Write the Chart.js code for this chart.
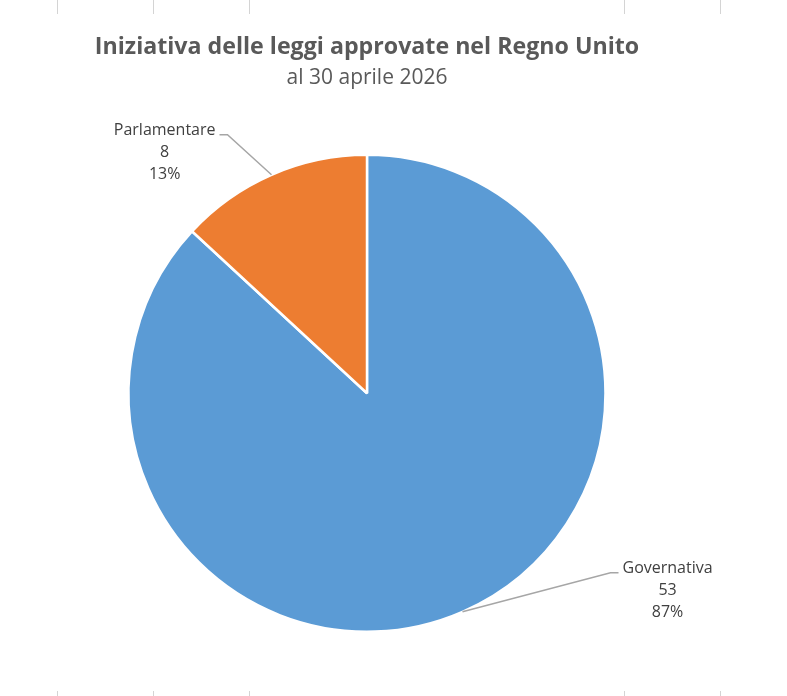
<!DOCTYPE html>
<html>
<head>
<meta charset="utf-8">
<script src="https://cdn.jsdelivr.net/npm/chart.js@4.4.1/dist/chart.umd.min.js"></script>
<style>
  html, body { margin: 0; padding: 0; background: #fff; }
  #wrap { position: relative; width: 787px; height: 696px; }
  .tick { position: absolute; width: 1px; background: #d4d4d4; }
</style>
</head>
<body>
<div id="wrap">
  <canvas id="pie" width="787" height="696"></canvas>
</div>
<script>
// data
const categories = ['Governativa', 'Parlamentare'];
const counts = [53, 8];
const sliceColors = ['#5B9BD5', '#ED7D31'];

const titleText = 'Iniziativa delle leggi approvate nel Regno Unito';
const subtitleText = 'al 30 aprile 2026';

// faint sheet gridlines peeking at top and bottom
const wrap = document.getElementById('wrap');
[57, 153, 249, 624, 720].forEach(x => {
    const top = document.createElement('div');
    top.className = 'tick';
    top.style.cssText = `left:${x}px;top:0;height:14px;`;
    wrap.appendChild(top);
    const bot = document.createElement('div');
    bot.className = 'tick';
    bot.style.cssText = `left:${x}px;top:691px;height:5px;`;
    wrap.appendChild(bot);
});

// outside labels with leader lines, like the spreadsheet "best fit" labels
const leaderLabels = {
    id: 'leaderLabels',
    afterDatasetsDraw(chart) {
        const ctx = chart.ctx;
        const meta = chart.getDatasetMeta(0);
        const total = counts.reduce((a, b) => a + b, 0);
        // elbow offsets from the arc edge, and which side the text sits on
        const layout = [
            { dx: 148, dy: -39, side: 1 },
            { dx: -44, dy: -40, side: -1 }
        ];
        ctx.save();
        meta.data.forEach((arc, i) => {
            const mid = (arc.startAngle + arc.endAngle) / 2;
            const px = arc.x + Math.cos(mid) * arc.outerRadius;
            const py = arc.y + Math.sin(mid) * arc.outerRadius;
            const l = layout[i];
            const ex = px + l.dx;
            const ey = py + l.dy;
            const hx = ex + l.side * 8;

            ctx.strokeStyle = '#a6a6a6';
            ctx.lineWidth = 1.5;
            ctx.beginPath();
            ctx.moveTo(px, py);
            ctx.lineTo(ex, ey);
            ctx.lineTo(hx, ey);
            ctx.stroke();

            const lines = [
                categories[i],
                String(counts[i]),
                Math.round(counts[i] / total * 100) + '%'
            ];
            ctx.font = '16px "Open Sans"';
            ctx.fillStyle = '#404040';
            ctx.textBaseline = 'middle';
            ctx.textAlign = 'center';
            const w = ctx.measureText(lines[0]).width;
            const cx = l.side > 0 ? hx + 4 + w / 2 : hx - 4 - w / 2;
            lines.forEach((t, k) => ctx.fillText(t, cx, ey - 4 + k * 22));
        });
        ctx.restore();
    }
};

new Chart(document.getElementById('pie'), {
    type: 'pie',
    data: {
        labels: categories,
        datasets: [{
            data: counts,
            backgroundColor: sliceColors,
            borderColor: '#ffffff',
            borderWidth: 2.5
        }]
    },
    options: {
        responsive: false,
        animation: false,
        layout: { padding: { top: 33, left: 80, right: 133, bottom: 63 } },
        plugins: {
            legend: { display: false },
            tooltip: { enabled: false },
            title: {
                display: true,
                text: titleText,
                color: '#595959',
                font: { family: '"Open Sans"', size: 23.2, weight: 'bold' },
                padding: { top: 0.5, bottom: 4 }
            },
            subtitle: {
                display: true,
                text: subtitleText,
                color: '#595959',
                font: { family: '"Open Sans"', size: 21 },
                padding: { top: 0, bottom: 63 }
            }
        }
    },
    plugins: [leaderLabels]
});
</script>
</body>
</html>
